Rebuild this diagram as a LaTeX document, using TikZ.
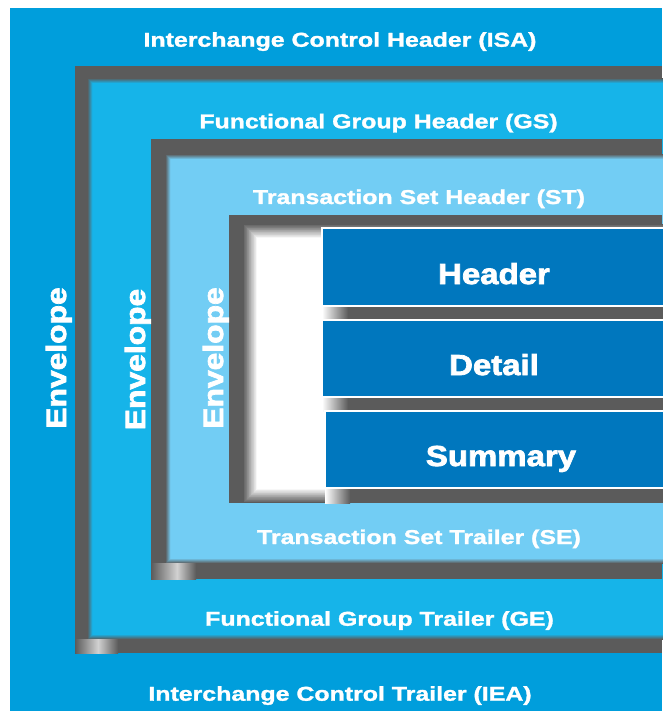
\documentclass[tikz,border=0pt]{standalone}
\usepackage{fontspec}
\setmainfont{Liberation Sans}
\newfontfamily\ttlfont{Liberation Sans}[FakeStretch=1.245, FakeBold=1.5]
\newfontfamily\bigfont{Liberation Sans}[FakeStretch=1.14, FakeBold=2.6]
\definecolor{outerblue}{HTML}{009EDC}
\definecolor{gsblue}{HTML}{16B4E9}
\definecolor{stblue}{HTML}{72CDF4}
\definecolor{boxblue}{HTML}{0077BE}
\definecolor{shadowgray}{HTML}{5B5B5B}
% soft-edged rectangle: #1 inner colour, #2 outer colour, #3..#6 corners, #7 blur width
\newcommand\softrect[7]{%
  \foreach \sfi in {0,...,20}{%
    \pgfmathsetmacro\sfd{#7*(\sfi/20-0.5)}%
    \pgfmathsetmacro\sfp{100*\sfi/20}%
    \fill[#1!\sfp!#2] (#3+\sfd,#4+\sfd) rectangle (#5-\sfd,#6-\sfd);
  }%
}
\begin{document}
\begin{tikzpicture}[x=1pt,y=-1pt,
  ttl/.style={text=white, inner sep=0pt, anchor=base, font=\ttlfont\bfseries\fontsize{20}{24}\selectfont},
  env/.style={text=white, inner sep=0pt, anchor=base, rotate=90, font=\bigfont\bfseries\fontsize{27.9}{32}\selectfont},
  seg/.style={text=white, inner sep=0pt, anchor=base, font=\bigfont\bfseries\fontsize{28.9}{34}\selectfont},
  segbox/.style={fill=boxblue, draw=white, line width=1.2pt}]
\useasboundingbox (0,0) rectangle (662,711);
\fill[white] (0,0) rectangle (662,711);
% interchange envelope
\fill[outerblue] (10,8) rectangle (662,711);
% functional group envelope
\fill[shadowgray] (75,66) rectangle (662,653);
\softrect{gsblue}{shadowgray}{90}{81}{680}{637}{5}
\shade[left color=shadowgray, right color=black!18] (75,639) rectangle (98,653);
\shade[left color=black!18, right color=shadowgray] (98,639) rectangle (118,653);
% transaction set envelope
\fill[shadowgray] (151,139) rectangle (662,579);
\softrect{stblue}{shadowgray}{168}{157}{680}{561}{5}
\shade[left color=shadowgray, right color=black!18] (151,563) rectangle (177,579);
\shade[left color=black!18, right color=shadowgray] (177,563) rectangle (196,579);
% inner frame
\fill[shadowgray] (229,215) rectangle (662,503);
\softrect{white}{shadowgray}{250}{231}{690}{496}{14}
% shadows under the segments
\shade[left color=white, right color=shadowgray] (322,306) rectangle (348,320);
\fill[shadowgray] (348,306) rectangle (664,320);
\shade[left color=white, right color=shadowgray] (322,397) rectangle (348,411);
\fill[shadowgray] (348,397) rectangle (664,411);
\shade[left color=white, right color=shadowgray] (325,488) rectangle (350,503);
\fill[shadowgray] (350,488) rectangle (664,503);
% segments
\draw[segbox] (322,228) rectangle (665,306);
\draw[segbox] (322,320) rectangle (665,397);
\draw[segbox] (325,411) rectangle (665,488);
\node[seg] (hdr) at (494,284) {Header};
\node[seg] (dtl) at (494,375) {Detail};
\node[seg] (sum) at (501,466) {Summary};
% titles
\node[ttl] (isa) at (340,46.7) {Interchange Control Header (ISA)};
\node[ttl] (gs) at (378.5,128.3) {Functional Group Header (GS)};
\node[ttl] (st) at (419,204) {Transaction Set Header (ST)};
\node[ttl] (se) at (419,544) {Transaction Set Trailer (SE)};
\node[ttl] (ge) at (379.5,625.7) {Functional Group Trailer (GE)};
\node[ttl] (iea) at (340,700.7) {Interchange Control Trailer (IEA)};
% envelope labels
\node[env] (env1) at (66,358) {Envelope};
\node[env] (env2) at (145,359.5) {Envelope};
\node[env] (env3) at (223,358) {Envelope};
\end{tikzpicture}
\end{document}
